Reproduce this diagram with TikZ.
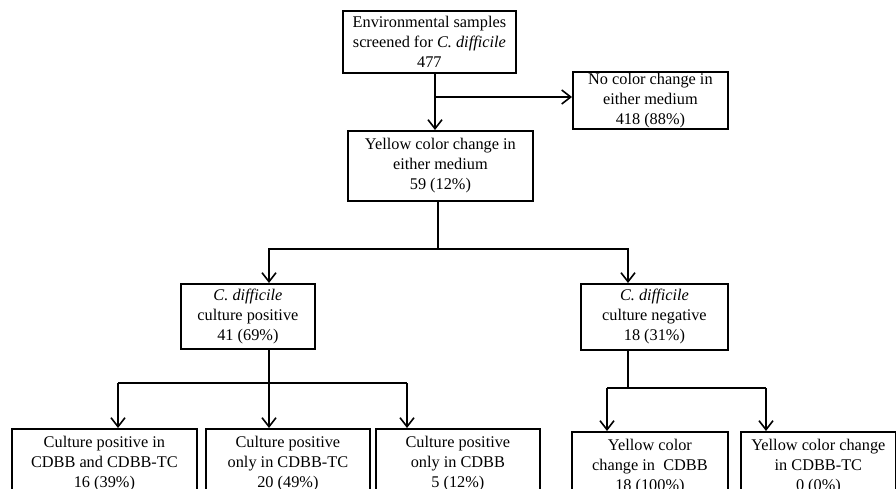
\documentclass[tikz,border=0pt]{standalone}
\usepackage{fontspec}
\setmainfont{Liberation Serif}
\usetikzlibrary{arrows.meta,positioning}

\begin{document}
\begin{tikzpicture}[x=1pt,y=-1pt,
  box/.style={draw,line width=1.8pt,align=center,inner sep=0pt,anchor=north west,
              font=\fontsize{16.3}{20}\selectfont},
  link/.style={line width=1.6pt},
  arr/.style={-{Straight Barb[length=9pt,width=14pt]},line width=1.6pt}]
  \clip (0,0) rectangle (896,489);
  \fill[white] (0,0) rectangle (896,489);
  % top level
  \node[box,minimum width=173pt,minimum height=62pt] (samples) at (342,10)
    {Environmental samples\\ screened for \textit{C. difficile}\\ 477};
  \node[box,minimum width=155pt,minimum height=57pt] (nochange) at (572,71)
    {No color change in\\ either medium\\ 418 (88\%)};
  \node[box,minimum width=185pt,minimum height=70pt] (yellow) at (347,130)
    {Yellow color change in\\ either medium\\ 59 (12\%)};
  % culture result
  \node[box,minimum width=134pt,minimum height=65pt] (cpos) at (180,283)
    {\textit{C. difficile}\\ culture positive\\ 41 (69\%)};
  \node[box,minimum width=147pt,minimum height=66pt] (cneg) at (580,283)
    {\textit{C. difficile}\\ culture negative\\ 18 (31\%)};
  % bottom row, cut by the page edge
  \node[box,minimum width=185pt,minimum height=70pt] (both) at (11,428)
    {Culture positive in\\ CDBB and CDBB-TC\\ 16 (39\%)};
  \node[box,minimum width=164pt,minimum height=70pt] (onlytc) at (205,428)
    {Culture positive\\ only in CDBB-TC\\ 20 (49\%)};
  \node[box,minimum width=164pt,minimum height=70pt] (onlycdbb) at (375,428)
    {Culture positive\\ only in CDBB\\ 5 (12\%)};
  \node[box,minimum width=156pt,minimum height=70pt] (ycdbb) at (571,431)
    {Yellow color\\ change in~ CDBB\\ 18 (100\%)};
  \node[box,minimum width=155pt,minimum height=70pt] (ytc) at (740,431)
    {Yellow color change\\ in CDBB-TC\\ 0 (0\%)};
  % junctions
  \coordinate (j1) at (435,97);
  \coordinate (j2) at (438,249);
  \coordinate (j3) at (269,383);
  \coordinate (j4) at (628,388);
  \coordinate (a1) at (118,383);
  \coordinate (a3) at (407,383);
  \coordinate (b1) at (607,388);
  \coordinate (b2) at (766,388);
  \draw[arr] (samples.south -| j1) -- (yellow.north -| j1);
  \draw[arr] (j1) -- (nochange.west |- j1);
  \draw[link] (yellow.south -| j2) -- (j2);
  \draw[arr] (j2) -| (cpos.north -| j3);
  \draw[arr] (j2) -| (cneg.north -| j4);
  \draw[link] (cpos.south -| j3) -- (j3);
  \draw[link] (a1) -- (a3);
  \draw[arr] (a1) -- (both.north -| a1);
  \draw[arr] (j3) -- (onlytc.north -| j3);
  \draw[arr] (a3) -- (onlycdbb.north -| a3);
  \draw[link] (cneg.south -| j4) -- (j4);
  \draw[link] (b1) -- (b2);
  \draw[arr] (b1) -- (ycdbb.north -| b1);
  \draw[arr] (b2) -- (ytc.north -| b2);
\end{tikzpicture}
\end{document}
